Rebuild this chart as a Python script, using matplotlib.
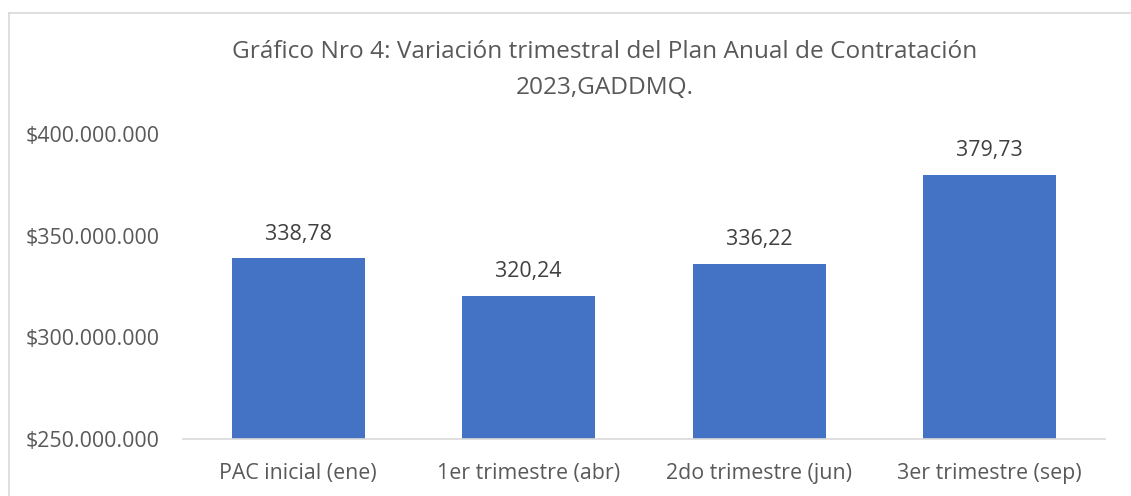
import matplotlib
matplotlib.use('Agg')
import matplotlib.pyplot as plt
from matplotlib.lines import Line2D
from matplotlib.ticker import FuncFormatter

plt.rcParams['font.family'] = ['Open Sans', 'DejaVu Sans']

# data (values in dollars)
categories = ['PAC inicial (ene)', '1er trimestre (abr)', '2do trimestre (jun)', '3er trimestre (sep)']
values = [338780000, 320240000, 336220000, 379730000]
labels = ['338,78', '320,24', '336,22', '379,73']
y_ticks = [250000000, 300000000, 350000000, 400000000]

bar_color = '#4472C4'
text_gray = '#595959'

fig = plt.figure(figsize=(11.31, 4.96), dpi=100)
ax = fig.add_axes([0.1618, 0.115, 0.977 - 0.1618, 0.7298 - 0.115])

x = range(len(categories))
bars = ax.bar(x, values, width=0.577, color=bar_color, zorder=2)

for bar, lab in zip(bars, labels):
    ax.annotate(lab, (bar.get_x() + bar.get_width() / 2, bar.get_height()),
                xytext=(0, 17.5), textcoords='offset points',
                ha='center', va='center', fontsize=15.4, color='#404040')

ax.set_xlim(-0.5, len(categories) - 0.5)
ax.set_ylim(y_ticks[0], y_ticks[-1])
ax.set_yticks(y_ticks)
ax.yaxis.set_major_formatter(FuncFormatter(lambda v, p: '$' + f'{int(v):,}'.replace(',', '.')))
ax.set_xticks(list(x))
ax.set_xticklabels(categories)

ax.tick_params(axis='y', length=0, pad=17, labelsize=15.4, labelcolor=text_gray)
ax.tick_params(axis='x', length=0, pad=17.5, labelsize=15.4, labelcolor=text_gray)

for s in ['top', 'right', 'left']:
    ax.spines[s].set_visible(False)
ax.spines['bottom'].set_color('#d9d9d9')
ax.spines['bottom'].set_linewidth(1.2)

fig.text(0.535, 1 - 52 / 496, 'Gráfico Nro 4: Variación trimestral del Plan Anual de Contratación',
         ha='center', va='center', fontsize=17.6, color=text_gray)
fig.text(0.535, 1 - 88 / 496, '2023,GADDMQ.',
         ha='center', va='center', fontsize=17.6, color=text_gray)

# chart frame (top and left edges visible)
fx = 9 / 1131
fy = 1 - 13 / 496
fig.add_artist(Line2D([fx, 1.0], [fy, fy], transform=fig.transFigure, color='#d9d9d9', lw=1.2))
fig.add_artist(Line2D([fx, fx], [0.0, fy], transform=fig.transFigure, color='#d9d9d9', lw=1.2))

fig.savefig('out.png', dpi=100)
